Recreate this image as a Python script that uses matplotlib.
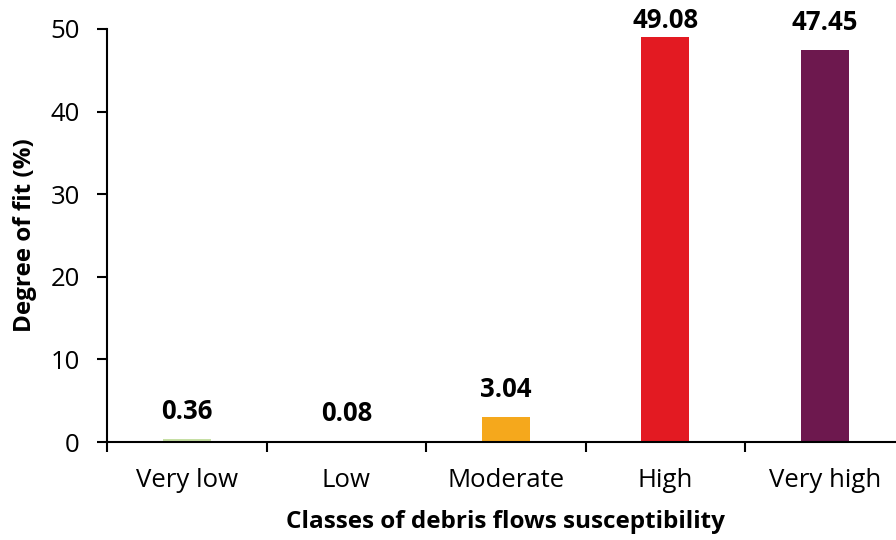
import matplotlib
matplotlib.use("Agg")
import matplotlib.pyplot as plt
import numpy as np

categories = ["Very low", "Low", "Moderate", "High", "Very high"]
values = [0.36, 0.08, 3.04, 49.08, 47.45]
colors = ["#c6dfa4", "#4e9a3a", "#f5a81c", "#e31a22", "#6d184e"]
labels = ["0.36", "0.08", "3.04", "49.08", "47.45"]

plt.rcParams['font.family'] = ['Open Sans', 'DejaVu Sans']

W, H = 896, 540
fig = plt.figure(figsize=(W/100, H/100), dpi=100)
left, right = 107/W, 904.5/W
bottom, top = (H-442)/H, (H-29)/H
ax = fig.add_axes([left, bottom, right-left, top-bottom])

x = np.arange(len(categories))
ax.bar(x, values, width=0.3, color=colors, zorder=2)
for xi, v, lab in zip(x, values, labels):
    ax.text(xi, min(v + 2.45, 50.1), lab, ha='center', va='baseline',
            fontsize=18.5, fontweight='bold', clip_on=False)

ax.set_xlim(-0.5, 4.5)
ax.set_ylim(0, 50)
ax.set_yticks([0, 10, 20, 30, 40, 50])
ax.set_xticks(x)
ax.set_xticklabels(categories, fontsize=18.5)
ax.set_xticks(np.arange(-0.5, 5, 1), minor=True)
ax.tick_params(axis='x', which='major', length=0, pad=19)
ax.tick_params(axis='x', which='minor', length=7.5, width=1.5, direction='out')
ax.tick_params(axis='y', labelsize=18.5, length=7.5, width=1.5, direction='out', pad=12)
for s in ['top', 'right']:
    ax.spines[s].set_visible(False)
for s in ['left', 'bottom']:
    ax.spines[s].set_linewidth(1.5)

ax.set_xlabel("Classes of debris flows susceptibility", fontsize=17.5, fontweight='bold')
ax.xaxis.set_label_coords((505 - 107) / (904.5 - 107), -0.165)
ax.set_ylabel("Degree of fit (%)", fontsize=17.5, fontweight='bold')
ax.yaxis.set_label_coords(-(107 - 37) / (904.5 - 107), 0.5)

fig.savefig("out.png", dpi=100)
